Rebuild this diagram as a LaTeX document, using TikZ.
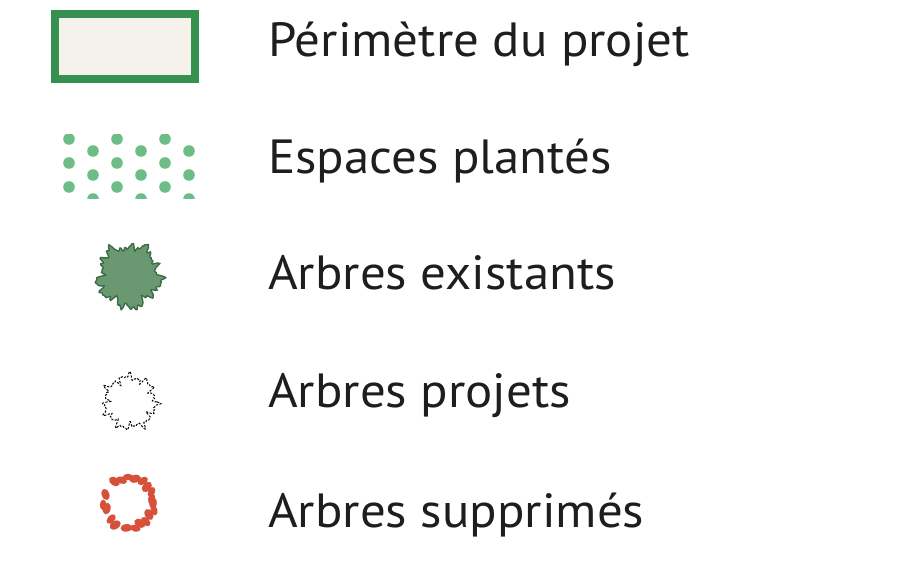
\documentclass[tikz,border=0pt]{standalone}
\usepackage{fontspec}
\setmainfont[FakeStretch=1.06]{PT Sans}
\definecolor{perim}{HTML}{36904F}
\definecolor{perimfill}{HTML}{F5F1EB}
\definecolor{dotgreen}{HTML}{6DBD86}
\definecolor{treefill}{HTML}{6A9870}
\definecolor{treeline}{HTML}{3E6B48}
\definecolor{redtree}{HTML}{D6503A}
\definecolor{txt}{HTML}{1E1E1E}
\tikzset{
  label/.style={anchor=base west, inner sep=0pt, text=txt, font=\fontsize{48}{56}\selectfont},
  dotsym/.style={fill=dotgreen, draw=none},
  blob/.style={fill=redtree, draw=none}
}
\begin{document}
\begin{tikzpicture}[x=1pt,y=-1pt]
\useasboundingbox (0,0) rectangle (916,580);
% Perimetre
\draw[perim, line width=8pt, fill=perimfill] (55,14) rectangle (195,79);
\node[label] (t1) at (268,57) {Périmètre du projet};
% Espaces plantes
\begin{scope}
\clip (62,135) rectangle (196,199);
\foreach \i in {0,...,5}{
  \pgfmathsetmacro{\xx}{69+24*\i}
  \ifodd\i
    \foreach \yy in {151,175,199,127}{\fill[dotsym] (\xx,\yy) circle (5.8);}
  \else
    \foreach \yy in {139,163,187,211}{\fill[dotsym] (\xx,\yy) circle (5.8);}
  \fi
}
\end{scope}
\node[label] (t2) at (268,174) {Espaces plantés};
% Arbres existants
\draw[treeline, fill=treefill, line width=1.4pt, line join=round]
  plot[domain=0:357, samples=150] ({129+(30+2.5*sin(5*\x+30)+2.2*sin(11*\x)+1.8*sin(17*\x+70)+1.6*sin(29*\x+10)+1.2*sin(43*\x))*cos(\x)},{276+(30+2.5*sin(5*\x+30)+2.2*sin(11*\x)+1.8*sin(17*\x+70)+1.6*sin(29*\x+10)+1.2*sin(43*\x))*sin(\x)}) -- cycle;
\node[label] (t3) at (268,290) {Arbres existants};
% Arbres projets
\draw[black, line width=1pt, dash pattern=on 2.2pt off 1.5pt]
  plot[domain=0:360, samples=240, smooth] ({130+(25+1.8*sin(7*\x+50)+2.2*sin(19*\x+20)+1.4*sin(31*\x)+1*sin(43*\x))*cos(\x)},{402+(25+1.8*sin(7*\x+50)+2.2*sin(19*\x+20)+1.4*sin(31*\x)+1*sin(43*\x))*sin(\x)});
\node[label] (t4) at (268,407) {Arbres projets};
% Arbres supprimes
\foreach \a/\r/\s in {0/24/4.4, 16/26/4, 30/23/4.6, 48/25/4.2, 62/23/4.6, 76/26/4, 96/25/4.4, 122/26/4.6, 138/24/4.2, 166/23/4.5, 176/26/3.8, 200/25/4.4, 236/26/4.6, 252/24/4.2, 268/26/3.8, 284/25/4.5, 302/26/4.2, 318/24/4.6, 334/25/4, 350/23/4.2}{
  \fill[blob, rotate around={\a+90:({129+\r*cos(\a)},{503+\r*sin(\a)})}] ({129+\r*cos(\a)},{503+\r*sin(\a)}) ellipse ({\s+1.4} and {\s-0.6});
}
\node[label] (t5) at (268,527) {Arbres supprimés};
\end{tikzpicture}
\end{document}
